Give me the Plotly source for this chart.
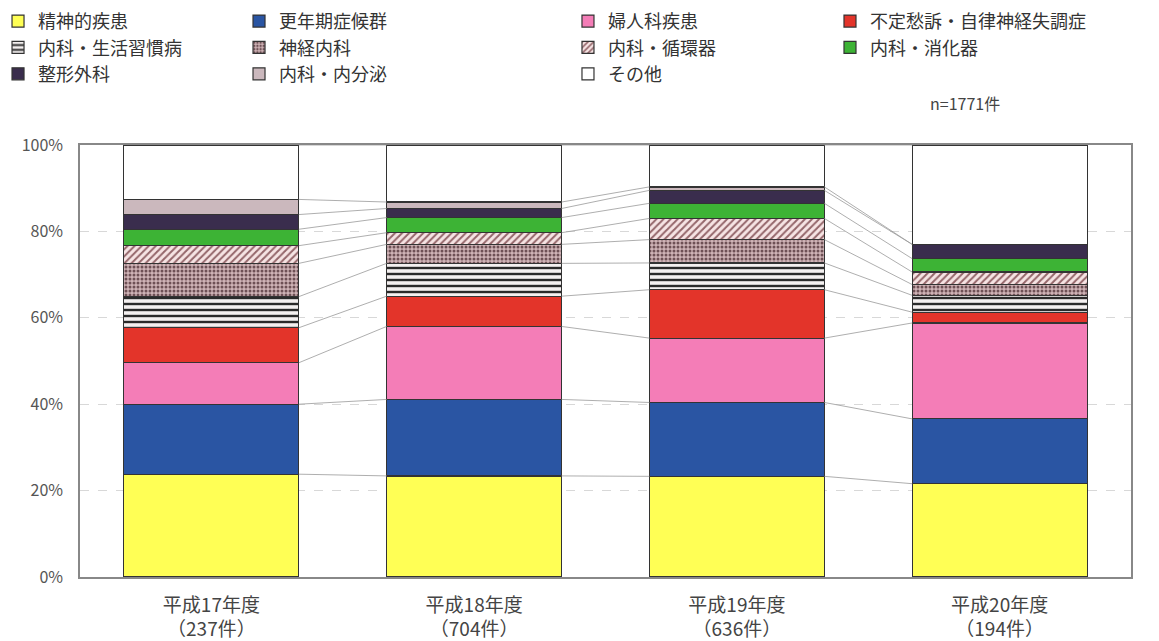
import plotly.graph_objects as go

categories = ["平成17年度<br>（237件）", "平成18年度<br>（704件）", "平成19年度<br>（636件）", "平成20年度<br>（194件）"]
series_names = ["精神的疾患", "更年期症候群", "婦人科疾患", "不定愁訴・自律神経失調症",
                "内科・生活習慣病", "神経内科", "内科・循環器", "内科・消化器",
                "整形外科", "内科・内分泌", "その他"]

# percentages per category (bottom -> top)
s_seishin   = [23.8, 23.4, 23.3, 21.6]
s_kounenki  = [16.2, 17.7, 17.1, 15.0]
s_fujinka   = [9.6, 16.9, 14.9, 22.2]
s_futei     = [8.1, 7.0, 11.2, 2.5]
s_seikatsu  = [7.2, 7.6, 6.2, 3.9]
s_shinkei   = [7.7, 4.4, 5.4, 2.5]
s_junkan    = [4.1, 2.7, 4.9, 2.9]
s_shouka    = [3.8, 3.5, 3.5, 3.1]
s_seikei    = [3.4, 2.1, 3.0, 3.3]
s_naibunpi  = [3.5, 1.5, 0.8, 0.0]
s_sonota    = [12.6, 13.2, 9.7, 23.0]

series_values = [s_seishin, s_kounenki, s_fujinka, s_futei, s_seikatsu, s_shinkei,
                 s_junkan, s_shouka, s_seikei, s_naibunpi, s_sonota]

y_ticks = [0, 20, 40, 60, 80, 100]
y_ticktext = ["0%", "20%", "40%", "60%", "80%", "100%"]
note_text = "n=1771件"

styles = [
    dict(color="#ffff55"),
    dict(color="#2a55a3"),
    dict(color="#f47db7"),
    dict(color="#e3342a"),
    dict(color="#ffffff", pattern=dict(shape="-", fgcolor="#2a2a2a", bgcolor="#f4f0f0", size=6, solidity=0.4, fillmode="replace")),
    dict(color="#b89a9c", pattern=dict(shape=".", fgcolor="#6e5055", bgcolor="#cfb3b6", size=4, solidity=0.45, fillmode="replace")),
    dict(color="#f0dcdc", pattern=dict(shape="/", fgcolor="#94666a", bgcolor="#f6e4e4", size=5, solidity=0.4, fillmode="replace")),
    dict(color="#3db335"),
    dict(color="#3a2d4d"),
    dict(color="#cbb8bd"),
    dict(color="#ffffff"),
]

legend_of = ["legend", "legend2", "legend3", "legend4",
             "legend", "legend2", "legend3", "legend4",
             "legend", "legend2", "legend3"]

x = list(range(len(categories)))
bar_w = 0.666

fig = go.Figure()

# connector lines between bars at each stack boundary
cums = []
for i in range(len(categories)):
    c = 0.0
    col = []
    for s in series_values:
        c += s[i]
        col.append(c)
    cums.append(col)
lx, ly = [], []
for i in range(len(categories) - 1):
    for k in range(len(series_values)):
        lx += [x[i] + bar_w / 2, x[i + 1] - bar_w / 2, None]
        ly += [cums[i][k], cums[i + 1][k], None]
fig.add_trace(go.Scatter(x=lx, y=ly, mode="lines", line=dict(color="#999999", width=0.8),
                         showlegend=False, hoverinfo="skip"))

for name, vals, st, lg in zip(series_names, series_values, styles, legend_of):
    marker = dict(color=st["color"], line=dict(color="#333333", width=1.2))
    if "pattern" in st:
        marker["pattern"] = st["pattern"]
    fig.add_trace(go.Bar(x=x, y=vals, name=name, marker=marker, width=bar_w, legend=lg))

leg_common = dict(orientation="v", xref="paper", yref="paper", yanchor="top", xanchor="left",
                  font=dict(family="Noto Sans CJK JP", size=18, color="#333333"),
                  bgcolor="rgba(0,0,0,0)", itemwidth=30, tracegroupgap=0, traceorder="normal")

LEG_Y = 1.329
fig.update_layout(
    barmode="stack",
    width=1151, height=633,
    margin=dict(l=72, r=28, t=137, b=64, autoexpand=False),
    paper_bgcolor="white", plot_bgcolor="white",
    font=dict(family="Noto Sans CJK JP", color="#444444"),
    legend=dict(x=-0.078, y=LEG_Y, **leg_common),
    legend2=dict(x=0.1513, y=LEG_Y, **leg_common),
    legend3=dict(x=0.4643, y=LEG_Y, **leg_common),
    legend4=dict(x=0.7136, y=LEG_Y, **leg_common),
    xaxis=dict(tickmode="array", tickvals=x, ticktext=categories, range=[-0.5, 3.5],
               showline=True, linecolor="#888888", linewidth=1.5, mirror=True, ticks="",
               ticklabelstandoff=10,
               tickfont=dict(size=19, color="#444444"), showgrid=False, zeroline=False),
    yaxis=dict(tickmode="array", tickvals=y_ticks, ticktext=y_ticktext, range=[0, 100],
               showline=True, linecolor="#888888", linewidth=1.5, mirror=True, ticks="",
               ticklabelstandoff=12,
               showgrid=True, gridcolor="#d8d8d8", griddash="dash", gridwidth=1,
               tickfont=dict(size=16, color="#555555"), zeroline=False),
    annotations=[dict(text=note_text, xref="paper", yref="paper", x=0.842, y=1.097,
                      xanchor="center", yanchor="middle", showarrow=False,
                      font=dict(size=16, color="#444444"))],
)

fig.write_html("out.html")
